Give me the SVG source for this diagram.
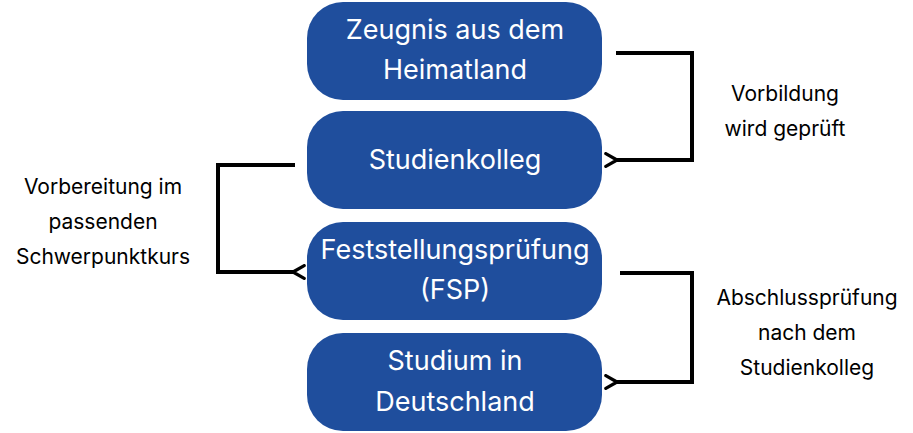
<svg xmlns="http://www.w3.org/2000/svg" width="913" height="433" viewBox="0 0 913 433">
<style>
.box{fill:#1f4e9d}
.bt{fill:#fff;font-family:Inter,"Liberation Sans",sans-serif;font-size:27px;text-anchor:middle}
.lt{fill:#000;font-family:Inter,"Liberation Sans",sans-serif;font-size:21px;text-anchor:middle}
.c{fill:none;stroke:#000;stroke-width:4;stroke-linejoin:miter}
</style>
<defs><marker id="a" viewBox="0 0 10 10" refX="2" refY="5" markerWidth="4" markerHeight="4" orient="auto-start-reverse"><path d="M9 1L2 5L9 9" fill="none" stroke="#000" stroke-width="2" stroke-linecap="round"/></marker></defs>
<rect width="913" height="433" fill="#fff"/>
<g id="n1"><rect class="box" x="307" y="2" width="295" height="98" rx="36"/><text class="bt" x="455" y="39">Zeugnis aus dem</text><text class="bt" x="455" y="79">Heimatland</text></g>
<g id="n2"><rect class="box" x="307" y="111" width="295" height="98" rx="36"/><text class="bt" x="455" y="169">Studienkolleg</text></g>
<g id="n3"><rect class="box" x="307" y="222" width="295" height="98" rx="36"/><text class="bt" x="455" y="259">Feststellungsprüfung</text><text class="bt" x="455" y="299">(FSP)</text></g>
<g id="n4"><rect class="box" x="307" y="333" width="295" height="98" rx="36"/><text class="bt" x="455" y="370">Studium in</text><text class="bt" x="455" y="411">Deutschland</text></g>
<g id="connectors">
<path class="c" d="M616 53H692V160H617" marker-end="url(#a)"/>
<path class="c" d="M295 165H218V272H293" marker-end="url(#a)"/>
<path class="c" d="M620 273H692V382H617" marker-end="url(#a)"/>
</g>
<g id="labels">
<text class="lt" x="785" y="101">Vorbildung</text><text class="lt" x="785" y="136">wird geprüft</text>
<text class="lt" x="103" y="194">Vorbereitung im</text><text class="lt" x="103" y="229">passenden</text><text class="lt" x="103" y="264">Schwerpunktkurs</text>
<text class="lt" x="807" y="305">Abschlussprüfung</text><text class="lt" x="807" y="340">nach dem</text><text class="lt" x="807" y="375">Studienkolleg</text>
</g>
</svg>
